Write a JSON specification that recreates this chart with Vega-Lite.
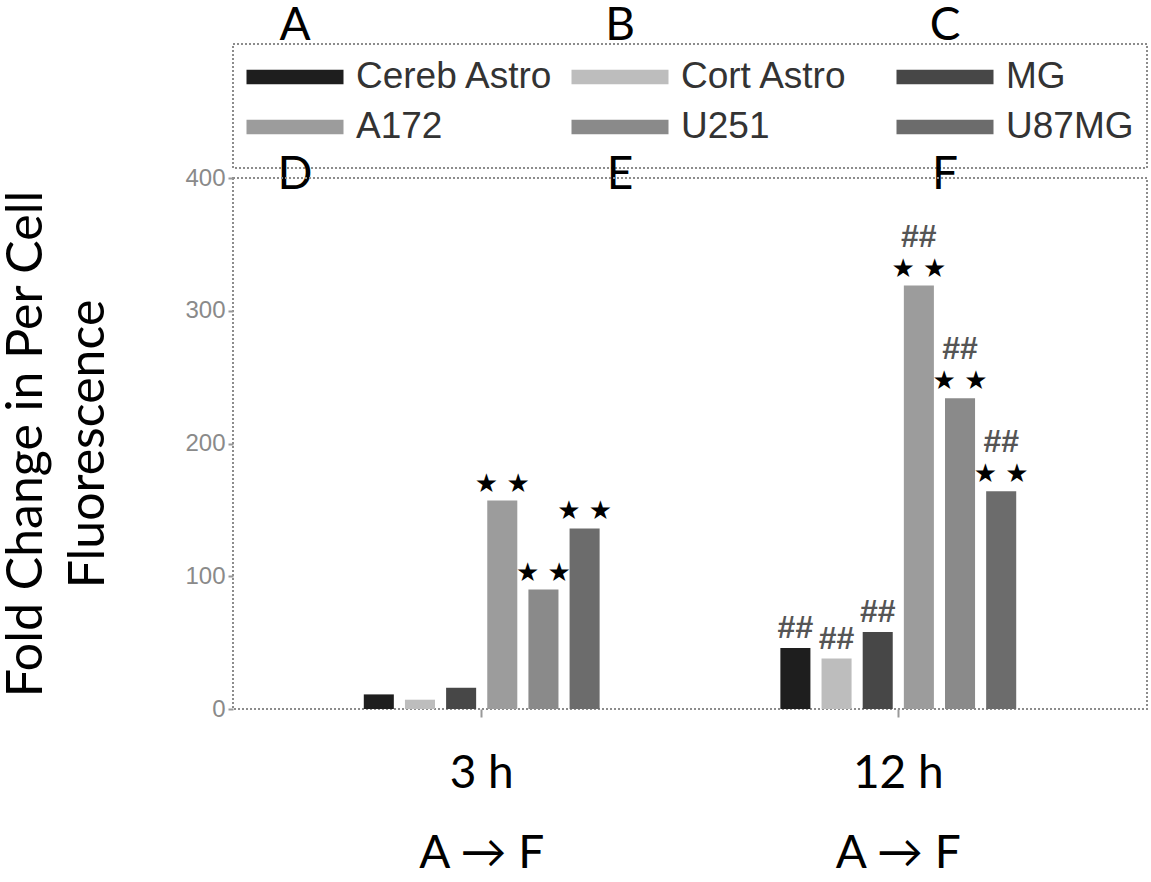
{
  "$schema": "https://vega.github.io/schema/vega-lite/v6.json",
  "background": "white",
  "padding": {"left": 0, "top": 2, "right": 4, "bottom": 0},
  "bounds": "flush",
  "spacing": 10,
  "datasets": {
    "bars": [
      {"time": "3 h", "series": "Cereb Astro", "value": 11, "stars": "", "hash": ""},
      {"time": "3 h", "series": "Cort Astro", "value": 7, "stars": "", "hash": ""},
      {"time": "3 h", "series": "MG", "value": 16, "stars": "", "hash": ""},
      {"time": "3 h", "series": "A172", "value": 157, "stars": "★ ★", "hash": ""},
      {"time": "3 h", "series": "U251", "value": 90, "stars": "★ ★", "hash": ""},
      {"time": "3 h", "series": "U87MG", "value": 136, "stars": "★ ★", "hash": ""},
      {"time": "12 h", "series": "Cereb Astro", "value": 46, "stars": "", "hash": "##"},
      {"time": "12 h", "series": "Cort Astro", "value": 38, "stars": "", "hash": "##"},
      {"time": "12 h", "series": "MG", "value": 58, "stars": "", "hash": "##"},
      {"time": "12 h", "series": "A172", "value": 319, "stars": "★ ★", "hash": "##"},
      {"time": "12 h", "series": "U251", "value": 234, "stars": "★ ★", "hash": "##"},
      {"time": "12 h", "series": "U87MG", "value": 164, "stars": "★ ★", "hash": "##"}
    ],
    "legend": [
      {"series": "Cereb Astro", "col": 0, "row": 0, "letter": "A"},
      {"series": "Cort Astro", "col": 1, "row": 0, "letter": "B"},
      {"series": "MG", "col": 2, "row": 0, "letter": "C"},
      {"series": "A172", "col": 0, "row": 1, "letter": "D"},
      {"series": "U251", "col": 1, "row": 1, "letter": "E"},
      {"series": "U87MG", "col": 2, "row": 1, "letter": "F"}
    ]
  },
  "resolve": {"scale": {"fill": "independent"}},
  "vconcat": [
    {
      "width": 914,
      "height": 124,
      "data": {"name": "legend"},
      "view": {"stroke": "#8c8c8c", "strokeDash": [2, 2], "strokeWidth": 2},
      "encoding": {
        "x": {"field": "col", "type": "ordinal", "scale": {"type": "point", "range": [62, 712], "padding": 0}, "axis": null},
        "y": {"field": "row", "type": "ordinal", "scale": {"type": "point", "range": [33, 83], "padding": 0}, "axis": null}
      },
      "layer": [
        {
          "mark": {"type": "point", "shape": "M-1,-0.15H1V0.15H-1Z", "size": 9409, "filled": true, "opacity": 1, "strokeWidth": 0},
          "encoding": {
            "fill": {
              "field": "series", "type": "nominal",
              "scale": {"domain": ["Cereb Astro", "Cort Astro", "MG", "A172", "U251", "U87MG"], "range": ["#1e1e1e", "#bdbdbd", "#474747", "#9c9c9c", "#8a8a8a", "#6c6c6c"]},
              "legend": null
            }
          }
        },
        {
          "mark": {"type": "text", "align": "left", "baseline": "middle", "dx": 61, "fontSize": 37, "font": "Liberation Sans", "color": "#333333"},
          "encoding": {"text": {"field": "series", "type": "nominal"}}
        },
        {
          "transform": [{"filter": "datum.row == 0"}],
          "mark": {"type": "text", "align": "center", "baseline": "middle", "dy": -51, "fontSize": 46, "font": "Lato", "color": "black"},
          "encoding": {"text": {"field": "letter", "type": "nominal"}}
        },
        {
          "transform": [{"filter": "datum.row == 1"}],
          "mark": {"type": "text", "align": "center", "baseline": "middle", "dy": 48, "fontSize": 46, "font": "Lato", "color": "black"},
          "encoding": {"text": {"field": "letter", "type": "nominal"}}
        }
      ]
    },
    {
      "width": 914,
      "height": 531,
      "data": {"name": "bars"},
      "view": {"stroke": "#8c8c8c", "strokeDash": [2, 2], "strokeWidth": 2},
      "encoding": {
        "x": {
          "field": "time", "type": "nominal", "sort": ["3 h", "12 h"],
          "scale": {"paddingInner": 0.424, "paddingOuter": 0.309},
          "axis": {
            "title": null,
            "labelExpr": "[datum.label, 'A → F']",
            "labelFont": "Lato", "labelFontSize": 46, "labelColor": "black",
            "labelAngle": 0, "labelBaseline": "top",
            "labelPadding": 34, "labelLineHeight": 80,
            "domain": false, "tickSize": 8, "tickColor": "#999999", "tickWidth": 2, "grid": false
          }
        },
        "xOffset": {
          "field": "series", "type": "nominal",
          "sort": ["Cereb Astro", "Cort Astro", "MG", "A172", "U251", "U87MG"],
          "scale": {"paddingInner": 0.27, "paddingOuter": 0.05}
        },
        "y": {
          "field": "value", "type": "quantitative",
          "scale": {"domain": [0, 400]},
          "axis": {
            "values": [0, 100, 200, 300, 400],
            "title": ["Fold Change in Per Cell", "Fluorescence"],
            "titleFont": "Lato", "titleFontSize": 50, "titleFontWeight": "normal", "titleColor": "black",
            "titleLineHeight": 62, "titlePadding": 71,
            "labelFont": "Liberation Sans", "labelFontSize": 24, "labelColor": "#8a8a8a", "labelPadding": 3,
            "domain": false, "grid": false, "tickSize": 5, "tickColor": "#999999", "tickWidth": 2
          }
        }
      },
      "layer": [
        {
          "mark": {"type": "bar"},
          "encoding": {
            "fill": {
              "field": "series", "type": "nominal",
              "scale": {"domain": ["Cereb Astro", "Cort Astro", "MG", "A172", "U251", "U87MG"], "range": ["#1e1e1e", "#bdbdbd", "#474747", "#9c9c9c", "#8a8a8a", "#6c6c6c"]},
              "legend": null
            }
          }
        },
        {
          "mark": {"type": "text", "baseline": "middle", "dy": -17, "fontSize": 26, "font": "DejaVu Sans", "color": "black"},
          "encoding": {"text": {"field": "stars", "type": "nominal"}}
        },
        {
          "transform": [{"filter": "datum.stars != ''"}],
          "mark": {"type": "text", "baseline": "middle", "dy": -49, "fontSize": 32, "font": "Liberation Sans", "fontWeight": "bold", "color": "#555555"},
          "encoding": {"text": {"field": "hash", "type": "nominal"}}
        },
        {
          "transform": [{"filter": "datum.stars == ''"}],
          "mark": {"type": "text", "baseline": "middle", "dy": -20, "fontSize": 32, "font": "Liberation Sans", "fontWeight": "bold", "color": "#555555"},
          "encoding": {"text": {"field": "hash", "type": "nominal"}}
        }
      ]
    }
  ]
}
